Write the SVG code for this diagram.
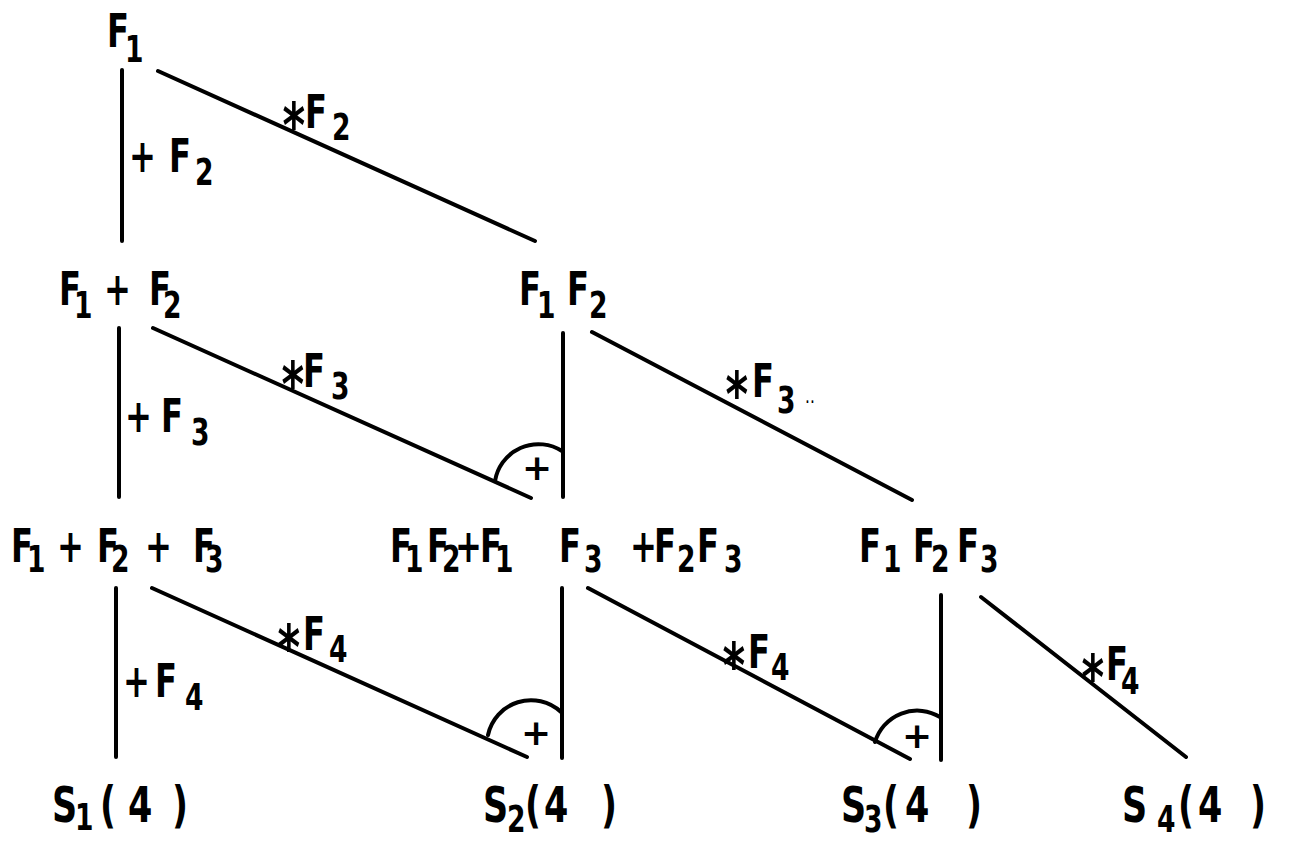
<svg xmlns="http://www.w3.org/2000/svg" width="1290" height="841" viewBox="0 0 1290 841">
<style>
text{font-family:"DejaVu Sans","Liberation Sans",sans-serif;font-weight:bold;font-size:46px;fill:#000}
.s{font-size:38px}
.S{font-size:50px}
.a{font-size:62px}
.p{font-size:36px}
.d{font-size:22px;font-weight:normal}
line,path{stroke:#000;stroke-width:4;fill:none;stroke-linecap:round}
</style>
<rect width="1290" height="841" fill="#fff"/>
<g id="connectors">
<line x1="122" y1="70" x2="122" y2="241"/>
<line x1="158" y1="71" x2="535" y2="241"/>
<line x1="119" y1="328" x2="119" y2="497"/>
<line x1="153" y1="328" x2="531" y2="498"/>
<line x1="563" y1="333" x2="563" y2="497"/>
<line x1="592" y1="332" x2="912" y2="500"/>
<line x1="116" y1="588" x2="116" y2="757"/>
<line x1="152" y1="588" x2="527" y2="757"/>
<line x1="562" y1="588" x2="562" y2="758"/>
<line x1="588" y1="588" x2="910" y2="759"/>
<line x1="941" y1="595" x2="941" y2="760"/>
<line x1="981" y1="597" x2="1186" y2="757"/>
<path d="M495 481 A44 44 0 0 1 562 451"/>
<path d="M488 735 A44 44 0 0 1 561 712"/>
<path d="M875 742 A44 44 0 0 1 940 717"/>
<text class="p" x="522" y="480">+</text>
<text class="p" x="521" y="745">+</text>
<text class="p" x="902" y="748">+</text>
<text transform="scale(0.7 1)"><tspan x="184.3" y="172">+</tspan> <tspan x="241.4" y="172">F</tspan><tspan class="s" x="278.6" y="185">2</tspan></text>
<text transform="scale(0.7 1)"><tspan class="a" x="403.7" y="147">*</tspan><tspan x="435.7" y="128">F</tspan><tspan class="s" x="474.3" y="140">2</tspan></text>
<text transform="scale(0.7 1)"><tspan class="a" x="402.2" y="406">*</tspan><tspan x="432.9" y="387">F</tspan><tspan class="s" x="472.8" y="399">3</tspan></text>
<text transform="scale(0.7 1)"><tspan x="178.6" y="432">+</tspan> <tspan x="230" y="432">F</tspan><tspan class="s" x="272.9" y="445">3</tspan></text>
<text transform="scale(0.7 1)"><tspan class="a" x="1036.5" y="416">*</tspan><tspan x="1074.3" y="397">F</tspan><tspan class="s" x="1110" y="413">3</tspan><tspan class="d" x="1150" y="409">··</tspan></text>
<text transform="scale(0.7 1)"><tspan class="a" x="396.6" y="669">*</tspan><tspan x="432.9" y="650">F</tspan><tspan class="s" x="470" y="662">4</tspan></text>
<text transform="scale(0.7 1)"><tspan x="175.7" y="697">+</tspan> <tspan x="221.5" y="697">F</tspan><tspan class="s" x="264.3" y="710">4</tspan></text>
<text transform="scale(0.7 1)"><tspan class="a" x="1032.2" y="687">*</tspan><tspan x="1068.5" y="668">F</tspan><tspan class="s" x="1101.4" y="680">4</tspan></text>
<text transform="scale(0.7 1)"><tspan class="a" x="1545.1" y="699">*</tspan><tspan x="1580" y="680">F</tspan><tspan class="s" x="1601.4" y="694">4</tspan></text>
</g>
<g id="n-f1"><text transform="scale(0.7 1)"><tspan x="152.9" y="47">F</tspan><tspan class="s" x="178.6" y="62">1</tspan></text></g>
<g id="n-f1pf2"><text transform="scale(0.7 1)"><tspan x="84.3" y="305">F</tspan><tspan class="s" x="105.7" y="318">1</tspan> <tspan x="148.6" y="305">+</tspan> <tspan x="212.9" y="305">F</tspan><tspan class="s" x="232.9" y="318">2</tspan></text></g>
<g id="n-f1f2"><text transform="scale(0.7 1)"><tspan x="741.4" y="305">F</tspan><tspan class="s" x="767.1" y="318">1</tspan> <tspan x="810" y="305">F</tspan><tspan class="s" x="841.4" y="318">2</tspan></text></g>
<g id="n-sum3"><text transform="scale(0.7 1)"><tspan x="15.7" y="562">F</tspan><tspan class="s" x="38.6" y="572">1</tspan> <tspan x="81.4" y="562">+</tspan> <tspan x="138.6" y="562">F</tspan><tspan class="s" x="158.6" y="572">2</tspan> <tspan x="207.1" y="562">+</tspan> <tspan x="275.7" y="562">F</tspan><tspan class="s" x="292.8" y="572">3</tspan></text></g>
<g id="n-pair3"><text transform="scale(0.7 1)"><tspan x="557.1" y="562">F</tspan><tspan class="s" x="578.6" y="572">1</tspan> <tspan x="610" y="562">F</tspan><tspan class="s" x="631.4" y="572">2</tspan><tspan x="650" y="562">+</tspan> <tspan x="685.7" y="562">F</tspan><tspan class="s" x="707.1" y="572">1</tspan> <tspan x="798.6" y="562">F</tspan><tspan class="s" x="834.3" y="572">3</tspan> <tspan x="900" y="562">+</tspan><tspan x="934.3" y="562">F</tspan><tspan class="s" x="967.1" y="572">2</tspan><tspan x="995.7" y="562">F</tspan><tspan class="s" x="1034.3" y="572">3</tspan></text></g>
<g id="n-prod3"><text transform="scale(0.7 1)"><tspan x="1227.1" y="562">F</tspan><tspan class="s" x="1261.4" y="572">1</tspan> <tspan x="1304.3" y="562">F</tspan><tspan class="s" x="1330" y="572">2</tspan><tspan x="1367.1" y="562">F</tspan><tspan class="s" x="1400" y="572">3</tspan></text></g>
<g id="n-s1"><text class="S" transform="scale(0.7 1)"><tspan x="74.3" y="822">S</tspan><tspan class="s" x="107.1" y="830">1</tspan> <tspan x="142.9" y="822">(</tspan><tspan x="182.9" y="822">4</tspan> <tspan x="245.7" y="822">)</tspan></text></g>
<g id="n-s2"><text class="S" transform="scale(0.7 1)"><tspan x="690" y="822">S</tspan><tspan class="s" x="724.3" y="832">2</tspan><tspan x="750" y="822">(</tspan><tspan x="777.1" y="822">4</tspan> <tspan x="858.5" y="822">)</tspan></text></g>
<g id="n-s3"><text class="S" transform="scale(0.7 1)"><tspan x="1201.4" y="822">S</tspan><tspan class="s" x="1234.3" y="832">3</tspan><tspan x="1261.4" y="822">(</tspan><tspan x="1292.9" y="822">4</tspan> <tspan x="1380" y="822">)</tspan></text></g>
<g id="n-s4"><text class="S" transform="scale(0.7 1)"><tspan x="1602.9" y="822">S</tspan> <tspan class="s" x="1652.9" y="832">4</tspan><tspan x="1682.9" y="822">(</tspan><tspan x="1711.4" y="822">4</tspan> <tspan x="1785.7" y="822">)</tspan></text></g>
</svg>
